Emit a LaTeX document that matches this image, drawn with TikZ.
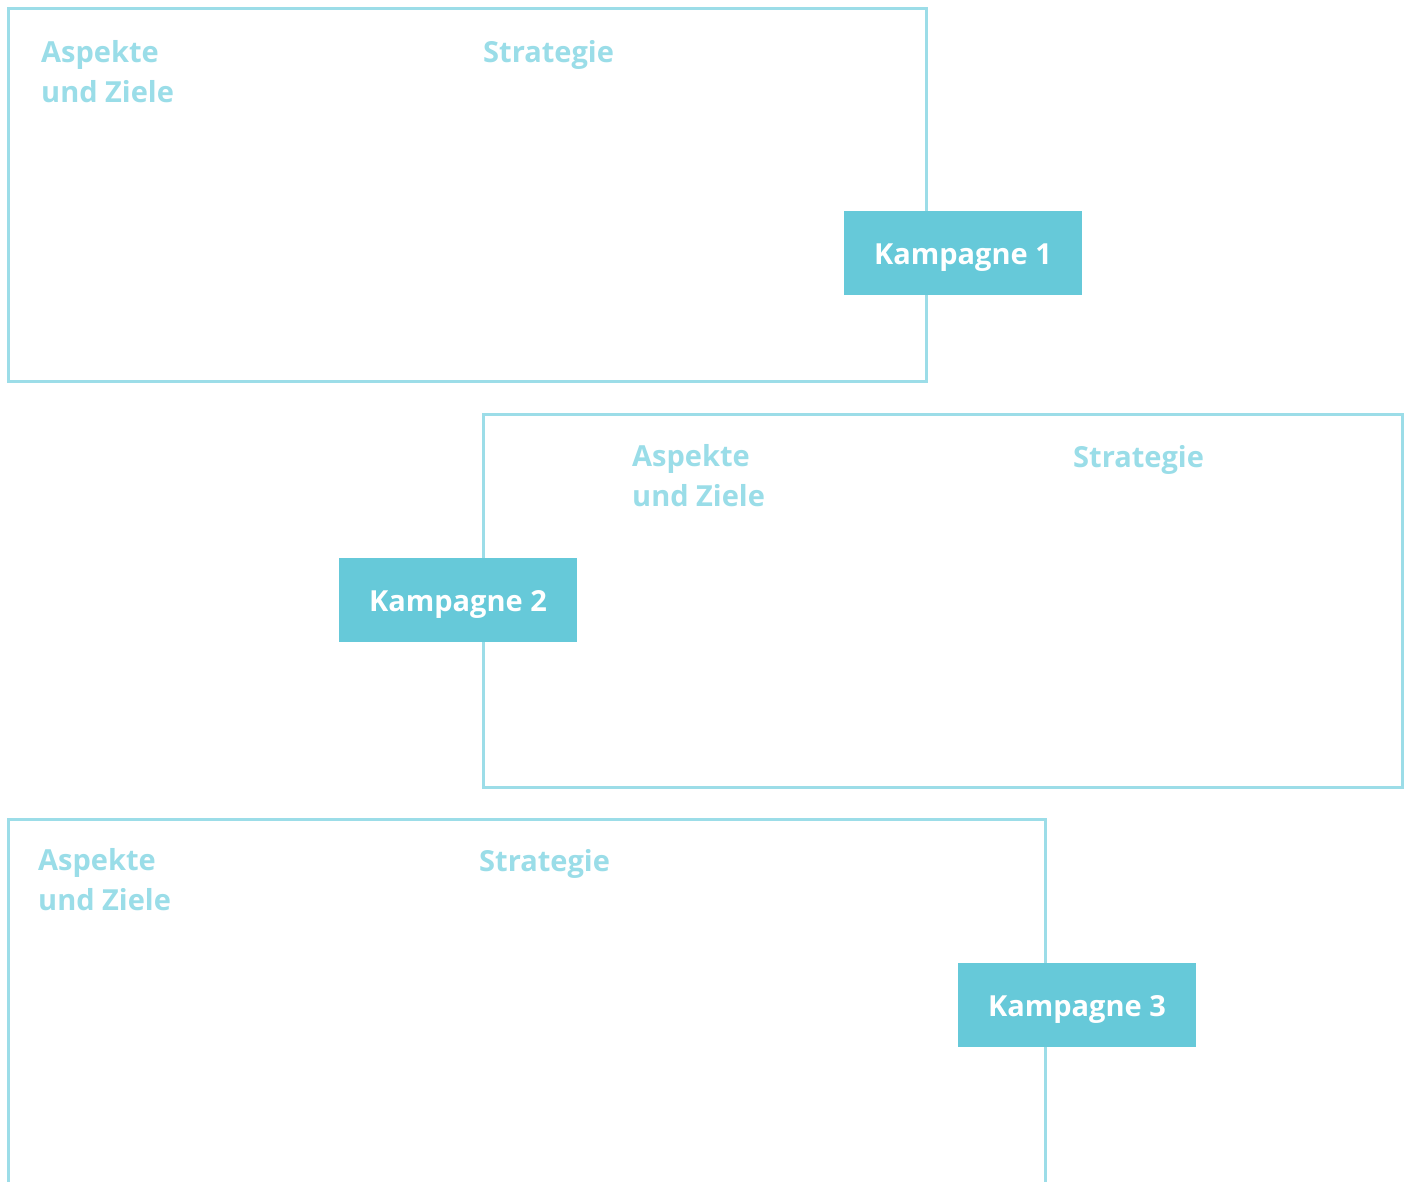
\documentclass[tikz,border=0pt]{standalone}
\usepackage{fontspec}
\setmainfont{Open Sans}
\definecolor{frameblue}{HTML}{9CDDE8}
\definecolor{tagblue}{HTML}{66C9D9}
\definecolor{labelblue}{HTML}{9ADDE8}
\begin{document}
\begin{tikzpicture}[x=1pt,y=-1pt,
  frame/.style={draw=frameblue,line width=3pt,fill=none},
  tag/.style={rectangle,fill=tagblue,text=white,inner sep=0pt,minimum width=238pt,minimum height=84pt,text height=23pt,text depth=0pt,font=\fontsize{29}{40}\selectfont\bfseries},
  label/.style={text=labelblue,inner sep=0pt,anchor=base west,align=left,font=\fontsize{29}{40}\selectfont\bfseries}]
\useasboundingbox[fill=white] (0,0) rectangle (1407,1182);
% frame 1
\draw[frame] (8,9) rectangle (926,381);
\node[label] (a1) at (41,103) {Aspekte\\und Ziele};
\node[label] (s1) at (483,63) {Strategie};
\node[tag] (k1) at (963,253) {Kampagne 1};
% frame 2
\draw[frame] (483,414) rectangle (1402,787);
\node[label] (a2) at (632,506) {Aspekte\\und Ziele};
\node[label] (s2) at (1073,467) {Strategie};
\node[tag] (k2) at (458,600) {Kampagne 2};
% frame 3
\draw[frame] (8,1200) -- (8,819) -- (1045,819) -- (1045,1200);
\node[label] (a3) at (38,910) {Aspekte\\und Ziele};
\node[label] (s3) at (479,871) {Strategie};
\node[tag] (k3) at (1077,1005) {Kampagne 3};
\end{tikzpicture}
\end{document}
